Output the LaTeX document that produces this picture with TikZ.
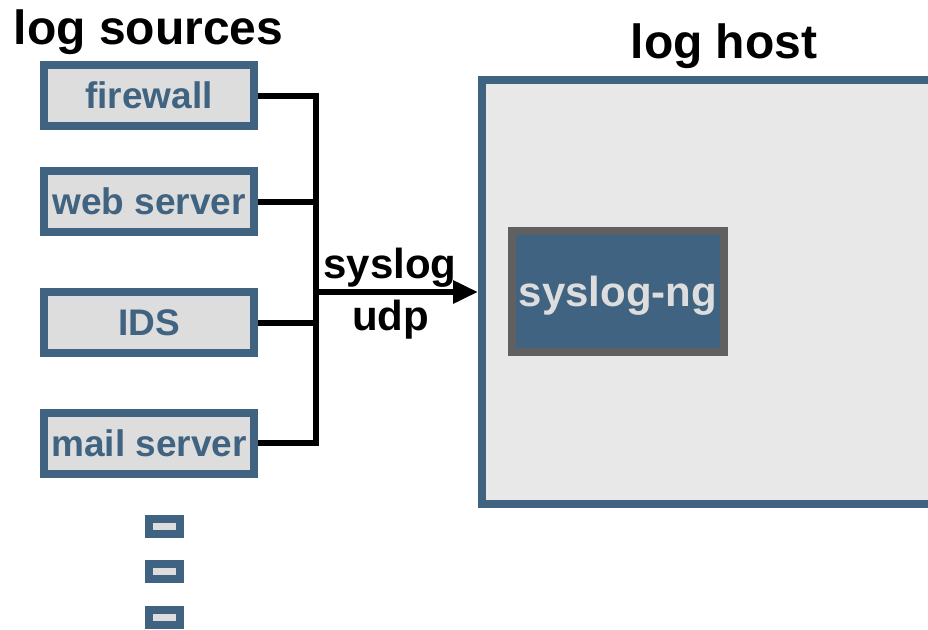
\documentclass[tikz,border=0pt]{standalone}
\usepackage{fontspec}
\setmainfont{Liberation Sans}
\usetikzlibrary{arrows.meta}
\definecolor{sblue}{RGB}{63,99,128}
\definecolor{boxfill}{RGB}{221,221,221}
\definecolor{hostfill}{RGB}{232,232,232}
\definecolor{ngborder}{RGB}{96,96,96}
\definecolor{nglabel}{RGB}{221,221,221}
\tikzset{
  srcbox/.style={draw=sblue, fill=boxfill, line width=8pt, inner sep=0pt,
    minimum width=210pt, minimum height=61pt, text=sblue,
    font=\fontsize{37}{40}\selectfont\bfseries},
  hostbox/.style={draw=sblue, fill=hostfill, line width=8pt, inner sep=0pt,
    minimum width=478pt, minimum height=424pt},
  ngbox/.style={draw=ngborder, fill=sblue, line width=8pt, inner sep=0pt,
    minimum width=212pt, minimum height=121pt, text=nglabel, text depth=0pt,
    font=\fontsize{42}{46}\selectfont\bfseries},
  title/.style={anchor=base, inner sep=0pt, font=\fontsize{48}{52}\selectfont\bfseries},
  wirelabel/.style={anchor=base, inner sep=0pt, font=\fontsize{42}{46}\selectfont\bfseries},
  wire/.style={line width=6pt, line join=miter},
  dotouter/.style={fill=sblue, draw=none, inner sep=0pt, minimum width=39pt, minimum height=23pt},
  dotinner/.style={fill=boxfill, draw=none, inner sep=0pt, minimum width=23pt, minimum height=7pt}
}
\begin{document}
\begin{tikzpicture}[x=1pt,y=-1pt]
\useasboundingbox (0,0) rectangle (928,629);
\begin{scope}
\clip (0,0) rectangle (928,629);
\node[hostbox] (host) at (721,292) {};
\end{scope}
\node[ngbox] (ng) at (618,291.5) {syslog-ng};

\node[title] (srct) at (148.5,44) {log sources};
\node[title] (hostt) at (724,58) {log host};

\node[srcbox] (fw) at (149,95.5) {firewall};
\node[srcbox] (ws) at (149,201.5) {web server};
\node[srcbox] (ids) at (149,322.5) {IDS};
\node[srcbox] (ms) at (149,443) {mail server};

\coordinate (bt) at (316,96);
\coordinate (bb) at (316,443);
\coordinate (ast) at (316,292);

\draw[wire] (fw.east |- bt) -- (bt) -- (bb) -- (ms.east |- bb);
\draw[wire] (ws.east) -- (ws.east -| bt);
\draw[wire] (ids.east) -- (ids.east -| bt);
\draw[wire, -{Triangle[length=25pt,width=22pt]}] (ast) -- (host.west |- ast);

\node[wirelabel] (l1) at (390,278) {syslog};
\node[wirelabel] (l2) at (390.5,330) {udp};

\foreach \n/\y in {d1/526.5, d2/571.5, d3/617.5} {
  \node[dotouter] (\n) at (164.5,\y) {};
  \node[dotinner] at (\n) {};
}
\end{tikzpicture}
\end{document}
